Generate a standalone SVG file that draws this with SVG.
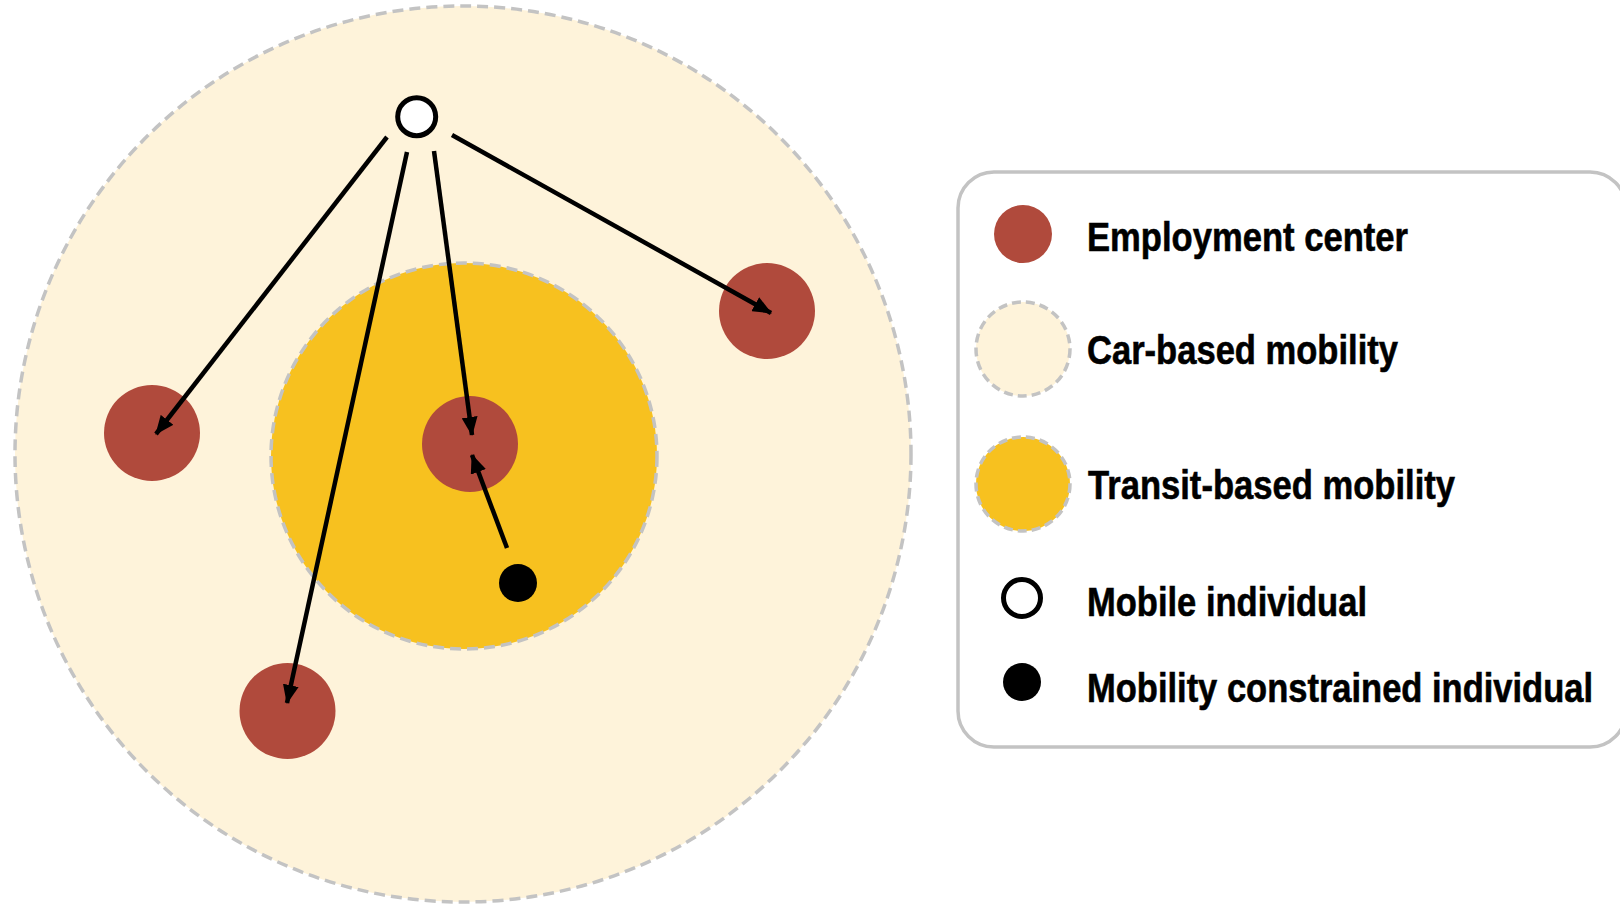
<svg xmlns="http://www.w3.org/2000/svg" width="1620" height="904" viewBox="0 0 1620 904">
  <style>
    .car { fill: #FEF3DA; stroke: #C3C3C3; stroke-width: 3.5; stroke-dasharray: 11 6; }
    .transit { fill: #F7C11F; stroke: #C3C3C3; stroke-width: 3.5; stroke-dasharray: 11 6; }
    .lcar { fill: #FEF3DA; stroke: #C3C3C3; stroke-width: 3.5; stroke-dasharray: 9 5; }
    .ltransit { fill: #F7C11F; stroke: #C3C3C3; stroke-width: 3.5; stroke-dasharray: 9 5; }
    .emp { fill: #B04A3C; }
    .mobile { fill: #FFFFFF; stroke: #000000; stroke-width: 5; }
    .constrained { fill: #000000; }
    .conn { stroke: #000000; stroke-width: 4.5; fill: none; marker-end: url(#arrow); }
    .label { font-family: "Liberation Sans Narrow", "Liberation Sans", Arial, sans-serif; font-weight: bold; font-size: 41px; fill: #000000; stroke: #000000; stroke-width: 0.6; }
    .legendbox { fill: #FFFFFF; stroke: #C3C3C3; stroke-width: 3.5; }
  </style>
  <defs>
    <marker id="arrow" markerUnits="userSpaceOnUse" markerWidth="19" markerHeight="16" refX="18" refY="8" orient="auto">
      <path d="M0,0 L19,8 L0,16 Z" fill="#000000"/>
    </marker>
  </defs>
  <rect x="0" y="0" width="1620" height="904" fill="#FFFFFF"/>

  <g id="car-zone">
    <circle class="car" cx="463" cy="454" r="448"/>
  </g>
  <g id="transit-zone">
    <circle class="transit" cx="464" cy="456" r="193"/>
  </g>

  <g id="emp-left"><circle class="emp" cx="152" cy="433" r="48"/></g>
  <g id="emp-right"><circle class="emp" cx="767" cy="311" r="48"/></g>
  <g id="emp-center"><circle class="emp" cx="470" cy="444" r="48"/></g>
  <g id="emp-bottom"><circle class="emp" cx="287.5" cy="711" r="48"/></g>

  <g id="mobile-individual"><circle class="mobile" cx="416.7" cy="116.7" r="19"/></g>
  <g id="constrained-individual"><circle class="constrained" cx="518" cy="583" r="19"/></g>

  <g id="connectors">
    <line class="conn" x1="387" y1="137" x2="156" y2="434"/>
    <line class="conn" x1="407" y1="152" x2="287" y2="703"/>
    <line class="conn" x1="434" y1="151" x2="472" y2="435"/>
    <line class="conn" x1="452" y1="135" x2="771" y2="313"/>
    <line class="conn" x1="507" y1="548" x2="472" y2="455"/>
  </g>

  <g id="legend">
    <rect class="legendbox" x="958" y="172" width="668" height="575" rx="36" ry="36"/>
    <g id="legend-employment">
      <circle class="emp" cx="1023" cy="234" r="29"/>
      <text class="label" x="1087" y="251" textLength="321" lengthAdjust="spacingAndGlyphs">Employment center</text>
    </g>
    <g id="legend-car">
      <circle class="lcar" cx="1023" cy="349" r="47"/>
      <text class="label" x="1087" y="364" textLength="311" lengthAdjust="spacingAndGlyphs">Car-based mobility</text>
    </g>
    <g id="legend-transit">
      <circle class="ltransit" cx="1023" cy="484" r="47"/>
      <text class="label" x="1088" y="499" textLength="367" lengthAdjust="spacingAndGlyphs">Transit-based mobility</text>
    </g>
    <g id="legend-mobile">
      <circle class="mobile" cx="1022" cy="598" r="18.5"/>
      <text class="label" x="1087" y="616" textLength="280" lengthAdjust="spacingAndGlyphs">Mobile individual</text>
    </g>
    <g id="legend-constrained">
      <circle class="constrained" cx="1022" cy="682" r="19"/>
      <text class="label" x="1087" y="702" textLength="506" lengthAdjust="spacingAndGlyphs">Mobility constrained individual</text>
    </g>
  </g>
</svg>
